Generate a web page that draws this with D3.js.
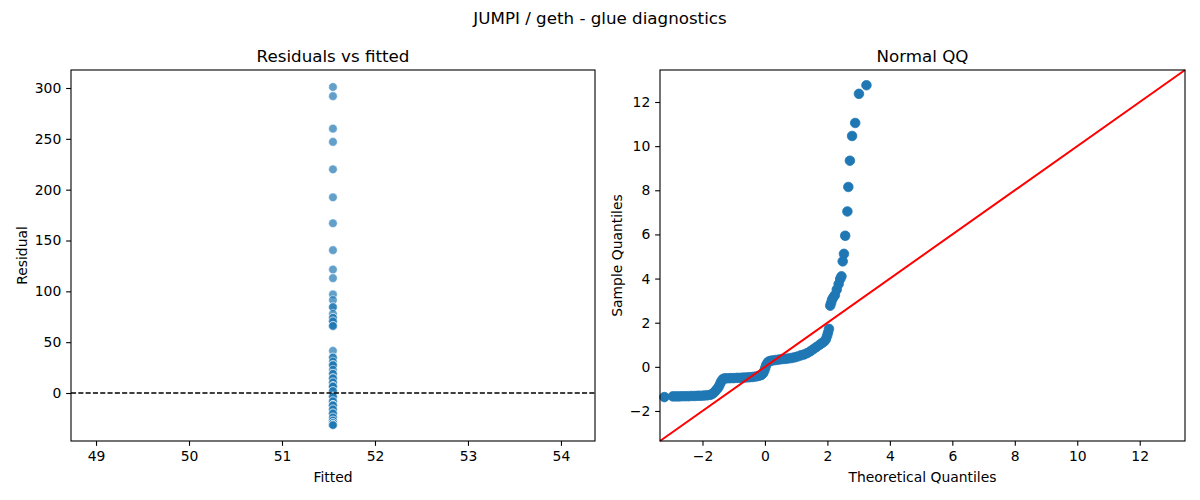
<!DOCTYPE html>
<head>
  <meta charset="utf-8">
  <script src="https://cdn.jsdelivr.net/npm/d3@7"></script>
  <style>
    body { margin: 0; background: #fff; }
    svg text { font-family: 'DejaVu Sans', sans-serif; fill: #000; }
    .tick line, .domain { stroke: #000; }
  </style>
</head>
<body>
<div id="chart"></div>
<script>
// residuals vs fitted
const fittedValue = 51.548
const residuals = [301, 292, 260, 247, 220, 192.5, 167, 140.5, 121.5, 113, 97, 91.5, 84.5, 78, 74, 70.5, 66,
  41.5, 35, 31, 27.5, 23, 19, 14.5, 10.5, 6.5, 2, -3.5, -8, -12, -16, -20, -24, -27, -29.5, -31.5]
const residualCounts = [1, 1, 1, 1, 1, 1, 1, 1, 1, 1, 1, 1, 2, 1, 2, 2, 3,
  1, 2, 1, 3, 1, 2, 3, 2, 8, 2, 3, 2, 6, 2, 3, 2, 2, 3, 6]
const leftXTicks = [49, 50, 51, 52, 53, 54]
const leftYTicks = [0, 50, 100, 150, 200, 250, 300]
const leftXDomain = [48.731, 54.366]
const leftYDomain = [-47.2, 317.7]

// normal qq (theoretical, sample)
const qqTheoretical = [-3.22, -2.95, -2.85, -2.75, -2.65, -2.55, -2.45, -2.35, -2.25, -2.15, -2.05, -1.95, -1.85,
  -1.75, -1.68, -1.62, -1.56, -1.5, -1.46, -1.42, -1.38, -1.34, -1.28, -1.2, -1.1, -1.0, -0.9, -0.8, -0.7,
  -0.6, -0.5, -0.4, -0.3, -0.2, -0.12, -0.06, -0.02, 0.01, 0.04, 0.08, 0.12, 0.18, 0.25, 0.35, 0.45, 0.55,
  0.65, 0.75, 0.85, 0.95, 1.05, 1.15, 1.25, 1.35, 1.45, 1.55, 1.65, 1.75, 1.83, 1.9, 1.95, 1.99, 2.02, 2.05,
  2.09, 2.12, 2.15, 2.19, 2.24, 2.3, 2.36, 2.41, 2.45, 2.49, 2.53, 2.57, 2.64, 2.67, 2.72, 2.79, 2.89, 3.01, 3.25]
const qqSample = [-1.37, -1.34, -1.34, -1.34, -1.33, -1.33, -1.33, -1.32, -1.32, -1.31, -1.31, -1.3, -1.29,
  -1.27, -1.22, -1.15, -1.05, -0.95, -0.85, -0.72, -0.62, -0.55, -0.52, -0.52, -0.51, -0.51, -0.5, -0.5, -0.49,
  -0.48, -0.47, -0.46, -0.44, -0.41, -0.37, -0.3, -0.18, -0.05, 0.08, 0.18, 0.24, 0.27, 0.29, 0.31, 0.33, 0.35,
  0.36, 0.38, 0.4, 0.43, 0.47, 0.52, 0.56, 0.62, 0.7, 0.8, 0.9, 1.0, 1.08, 1.15, 1.25, 1.4, 1.55, 1.72,
  2.77, 2.9, 3.05, 3.15, 3.25, 3.5, 3.75, 3.98, 4.1, 4.78, 5.12, 5.94, 7.04, 8.15, 9.34, 10.46, 11.05, 12.37, 12.76]
const qqTicks = [-2, 0, 2, 4, 6, 8, 10, 12]
const qqDomain = [-3.36, 13.45]

const width = 1200, height = 500
const blue = '#1f77b4'
const tickLen = 4.86, tickPad = 4.86, tickFont = 13.9, titleFont = 16.7

const svg = d3.select('#chart').append('svg')
  .attr('width', width).attr('height', height)
  .attr('viewBox', [0, 0, width, height])

svg.append('text')
  .attr('x', 600).attr('y', 18)
  .attr('text-anchor', 'middle').attr('dominant-baseline', 'central')
  .style('font-size', titleFont + 'px')
  .text('JUMPI / geth - glue diagnostics')

const styleAxis = g => {
  g.select('.domain').remove()
  g.selectAll('.tick line').attr('stroke-width', 1.1)
  g.selectAll('.tick text').style('font-size', tickFont + 'px').attr('font-family', null)
}

const panel = ({ left, right, top, bottom, xDomain, yDomain, xTicks, yTicks, title, xLabel, yLabel, yLabelX }) => {
  const x = d3.scaleLinear().domain(xDomain).range([left, right])
  const y = d3.scaleLinear().domain(yDomain).range([bottom, top])
  const g = svg.append('g')

  g.append('g')
    .attr('transform', `translate(0,${bottom})`)
    .call(d3.axisBottom(x).tickValues(xTicks).tickSize(tickLen).tickPadding(tickPad).tickFormat(d3.format('d')))
    .call(styleAxis)
  g.append('g')
    .attr('transform', `translate(${left},0)`)
    .call(d3.axisLeft(y).tickValues(yTicks).tickSize(tickLen).tickPadding(tickPad).tickFormat(d3.format('d')))
    .call(styleAxis)

  g.append('text')
    .attr('x', (left + right) / 2).attr('y', top - 8.3)
    .attr('text-anchor', 'middle')
    .style('font-size', titleFont + 'px')
    .text(title)
  g.append('text')
    .attr('x', (left + right) / 2).attr('y', 477)
    .attr('text-anchor', 'middle').attr('dominant-baseline', 'central')
    .style('font-size', tickFont + 'px')
    .text(xLabel)
  g.append('text')
    .attr('transform', `translate(${yLabelX},${(top + bottom) / 2}) rotate(-90)`)
    .attr('text-anchor', 'middle').attr('dominant-baseline', 'central')
    .style('font-size', tickFont + 'px')
    .text(yLabel)

  return { x, y, g, frame: () => g.append('rect')
    .attr('x', left).attr('y', top).attr('width', right - left).attr('height', bottom - top)
    .attr('fill', 'none').attr('stroke', '#000').attr('stroke-width', 1.1) }
}

// left panel
const L = panel({
  left: 71, right: 595, top: 70, bottom: 441,
  xDomain: leftXDomain, yDomain: leftYDomain, xTicks: leftXTicks, yTicks: leftYTicks,
  title: 'Residuals vs fitted', xLabel: 'Fitted', yLabel: 'Residual', yLabelX: 22
})
const residualPoints = residuals.flatMap((r, i) => d3.range(residualCounts[i]).map(() => r))
L.g.append('g')
  .selectAll('circle')
  .data(residualPoints)
  .join('circle')
    .attr('cx', L.x(fittedValue))
    .attr('cy', d => L.y(d))
    .attr('r', 4.3)
    .attr('fill', blue)
    .attr('fill-opacity', 0.7)
    .attr('stroke', '#fff')
    .attr('stroke-opacity', 0.7)
    .attr('stroke-width', 0.7)
L.g.append('line')
  .attr('x1', 71).attr('x2', 595)
  .attr('y1', L.y(0)).attr('y2', L.y(0))
  .attr('stroke', '#000').attr('stroke-width', 1.4)
  .attr('stroke-dasharray', '5.1,2.2')
L.frame()

// right panel
const R = panel({
  left: 660, right: 1185, top: 70, bottom: 441,
  xDomain: qqDomain, yDomain: qqDomain, xTicks: qqTicks, yTicks: qqTicks,
  title: 'Normal QQ', xLabel: 'Theoretical Quantiles', yLabel: 'Sample Quantiles', yLabelX: 617
})
R.g.append('g')
  .selectAll('circle')
  .data(qqTheoretical.map((t, i) => [t, qqSample[i]]))
  .join('circle')
    .attr('cx', d => R.x(d[0]))
    .attr('cy', d => R.y(d[1]))
    .attr('r', 4.8)
    .attr('fill', blue)
    .attr('stroke', blue)
    .attr('stroke-width', 0.8)
R.g.append('line')
  .attr('x1', R.x(qqDomain[0])).attr('y1', R.y(qqDomain[0]))
  .attr('x2', R.x(qqDomain[1])).attr('y2', R.y(qqDomain[1]))
  .attr('stroke', 'red').attr('stroke-width', 2)
R.frame()
</script>
</body>
